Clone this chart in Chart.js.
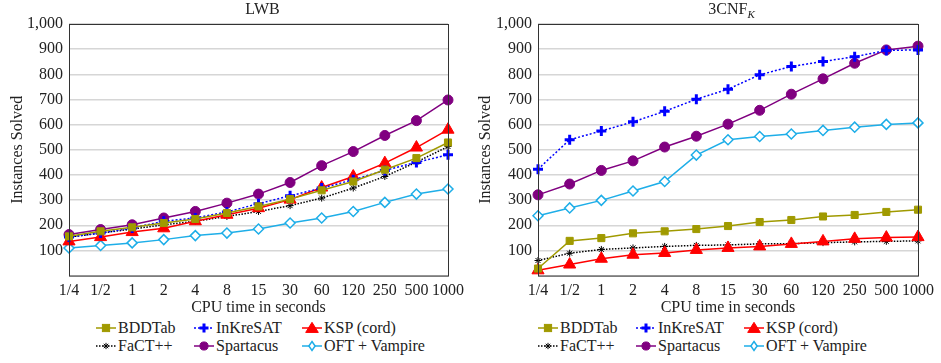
<!DOCTYPE html>
<html>
<head>
<meta charset="utf-8">
<script src="https://cdn.jsdelivr.net/npm/chart.js@4"></script>
<style>
  body { margin: 0; background: #fff; font-family: "Liberation Serif", "Times New Roman", "DejaVu Serif", serif; color: #222; }
  #wrap { position: relative; width: 941px; height: 363px; }
  .panel { position: absolute; top: 0; width: 470px; height: 317px; }
  .title { position: absolute; top: 0; font-size: 16px; text-align: center; }
  .legend { position: absolute; top: 319px; display: grid; grid-template-columns: 98px 108px auto; row-gap: 0; font-size: 16px; line-height: 18px; }
  .item { display: flex; align-items: center; white-space: nowrap; }
  .item svg { margin-right: 1px; }
</style>
</head>
<body>
<div id="wrap">
  <div class="panel" style="left:0"><canvas id="lwb"></canvas></div>
  <div class="panel" style="left:470px"><canvas id="cnf"></canvas></div>
  <div class="title" style="left:69px;width:387px">LWB</div>
  <div class="title" style="left:538px;width:387px">3CNF<sub style="font-size:11px;font-style:italic">K</sub></div>
  <div class="legend" id="legLwb" style="left:95px"></div>
  <div class="legend" id="legCnf" style="left:537px"></div>
</div>
<script>
const times = ['1/4', '1/2', '1', '2', '4', '8', '15', '30', '60', '120', '250', '500', '1000'];

const names = ['BDDTab', 'InKreSAT', 'KSP (cord)', 'FaCT++', 'Spartacus', 'OFT + Vampire'];

// LWB
const bddtabLwb    = [156, 176, 192, 209, 225, 249, 275, 304, 339, 374, 421, 467, 529];
const inkresatLwb  = [153, 169, 189, 216, 229, 253, 286, 317, 348, 381, 418, 450, 480];
const kspLwb       = [136, 153, 173, 188, 216, 242, 268, 302, 350, 394, 447, 509, 580];
const factLwb      = [153, 169, 185, 202, 216, 235, 255, 278, 308, 348, 394, 451, 513];
const spartacusLwb = [163, 183, 202, 229, 255, 288, 324, 370, 437, 493, 557, 616, 698];
const oftLwb       = [110, 120, 130, 143, 159, 169, 185, 209, 229, 255, 291, 324, 344];

// 3CNF_K
const bddtabCnf    = [28, 138, 149, 168, 176, 185, 197, 213, 221, 235, 241, 253, 262];
const inkresatCnf  = [423, 540, 575, 611, 653, 701, 741, 798, 831, 851, 870, 895, 897];
const kspCnf       = [21, 44, 67, 83, 90, 102, 110, 116, 126, 136, 146, 151, 153];
const factCnf      = [60, 89, 104, 110, 116, 120, 122, 126, 127, 131, 134, 136, 138];
const spartacusCnf = [321, 364, 418, 456, 511, 554, 602, 657, 721, 782, 844, 897, 912];
const oftCnf       = [238, 269, 299, 336, 374, 479, 540, 553, 563, 577, 590, 601, 607];

const styles = [
  { color: '#a09a00', fill: '#a09a00', point: 'rect', r: 5, bw: 1, dash: [] },
  { color: '#0000ff', fill: '#0000ff', point: 'cross', r: 5, bw: 3, dash: [2, 2] },
  { color: '#ff0000', fill: '#ff0000', point: 'triangle', r: 7, bw: 1, dash: [] },
  { color: '#000000', fill: '#000000', point: 'star', r: 3.5, bw: 1, dash: [1.5, 1.5] },
  { color: '#800080', fill: '#800080', point: 'circle', r: 5, bw: 1, dash: [] },
  { color: '#1eaee8', fill: '#ffffff', point: 'rectRot', r: 5, bw: 1.5, dash: [] }
];

function makeSets(series) {
  return series.map((d, i) => ({
    label: names[i],
    data: d,
    borderColor: styles[i].color,
    backgroundColor: styles[i].fill,
    borderWidth: 1.5,
    borderDash: styles[i].dash,
    pointStyle: styles[i].point,
    pointRadius: styles[i].r,
    pointBorderWidth: styles[i].bw,
    pointBorderColor: styles[i].color,
    pointBackgroundColor: styles[i].fill,
    tension: 0
  }));
}

const frame = {
  id: 'frame',
  afterDraw(chart) {
    const a = chart.chartArea, c = chart.ctx;
    c.save();
    c.strokeStyle = '#333';
    c.lineWidth = 1;
    c.strokeRect(a.left + 0.5, a.top + 0.5, a.right - a.left, a.bottom - a.top);
    c.restore();
  }
};

function makeChart(id, series, padLeft, axisW, rightPad) {
  const font = { family: 'Liberation Serif, "Times New Roman", "DejaVu Serif", serif', size: 16 };
  new Chart(document.getElementById(id), {
    type: 'line',
    data: { labels: times, datasets: makeSets(series) },
    options: {
      responsive: true,
      maintainAspectRatio: false,
      animation: false,
      layout: { padding: { left: padLeft, right: rightPad, top: 24, bottom: 0 } },
      plugins: { legend: { display: false }, tooltip: { enabled: false } },
      scales: {
        x: {
          grid: { display: false, drawTicks: false },
          border: { display: false },
          ticks: { color: '#222', font, maxRotation: 0, autoSkip: false, padding: 6 },
          title: { display: true, text: 'CPU time in seconds', color: '#222', font, padding: { top: -9, bottom: 0 } }
        },
        y: {
          min: 0, max: 1000,
          afterFit(s) { s.width = axisW; },
          grid: { color: '#d6d6d6', lineWidth: 1.5, drawTicks: false },
          border: { display: false },
          ticks: {
            stepSize: 100, color: '#222', font, padding: 6,
            callback: v => v === 0 ? '' : v.toLocaleString('en-US')
          },
          title: { display: true, text: 'Instances Solved', color: '#222', font, padding: 0 }
        }
      }
    },
    plugins: [frame]
  });
}

makeChart('lwb', [bddtabLwb, inkresatLwb, kspLwb, factLwb, spartacusLwb, oftLwb], 8, 61, 14);
makeChart('cnf', [bddtabCnf, inkresatCnf, kspCnf, factCnf, spartacusCnf, oftCnf], 6, 62, 16);

function icon(s) {
  const ns = 'http://www.w3.org/2000/svg';
  const svg = document.createElementNS(ns, 'svg');
  svg.setAttribute('width', '22'); svg.setAttribute('height', '14');
  const line = document.createElementNS(ns, 'line');
  line.setAttribute('x1', '1'); line.setAttribute('x2', '21');
  line.setAttribute('y1', '7'); line.setAttribute('y2', '7');
  line.setAttribute('stroke', s.color); line.setAttribute('stroke-width', '1.5');
  if (s.dash.length) line.setAttribute('stroke-dasharray', s.dash.join(' '));
  svg.appendChild(line);
  let m;
  const r = s.r * 0.9;
  if (s.point === 'rect') {
    m = document.createElementNS(ns, 'rect');
    m.setAttribute('x', 11 - r * 0.8); m.setAttribute('y', 7 - r * 0.8);
    m.setAttribute('width', r * 1.6); m.setAttribute('height', r * 1.6);
  } else if (s.point === 'circle') {
    m = document.createElementNS(ns, 'circle');
    m.setAttribute('cx', 11); m.setAttribute('cy', 7); m.setAttribute('r', r * 0.9);
  } else if (s.point === 'triangle') {
    m = document.createElementNS(ns, 'polygon');
    m.setAttribute('points', `11,${7 - r * 0.9} ${11 - r},${7 + r * 0.7} ${11 + r},${7 + r * 0.7}`);
  } else if (s.point === 'rectRot') {
    m = document.createElementNS(ns, 'polygon');
    m.setAttribute('points', `11,${7 - r} ${11 + r * 0.7},7 11,${7 + r} ${11 - r * 0.7},7`);
  } else if (s.point === 'cross') {
    m = document.createElementNS(ns, 'path');
    m.setAttribute('d', `M${11 - r},7 H${11 + r} M11,${7 - r} V${7 + r}`);
  } else {
    m = document.createElementNS(ns, 'path');
    m.setAttribute('d', `M${11 - r},7 H${11 + r} M11,${7 - r} V${7 + r} M${11 - r * 0.7},${7 - r * 0.7} L${11 + r * 0.7},${7 + r * 0.7} M${11 + r * 0.7},${7 - r * 0.7} L${11 - r * 0.7},${7 + r * 0.7}`);
  }
  m.setAttribute('fill', s.fill);
  m.setAttribute('stroke', s.color);
  m.setAttribute('stroke-width', s.bw);
  svg.appendChild(m);
  return svg;
}

['legLwb', 'legCnf'].forEach(id => {
  const box = document.getElementById(id);
  names.forEach((n, i) => {
    const it = document.createElement('div');
    it.className = 'item';
    it.appendChild(icon(styles[i]));
    it.appendChild(document.createTextNode(n));
    box.appendChild(it);
  });
});
</script>
</body>
</html>
